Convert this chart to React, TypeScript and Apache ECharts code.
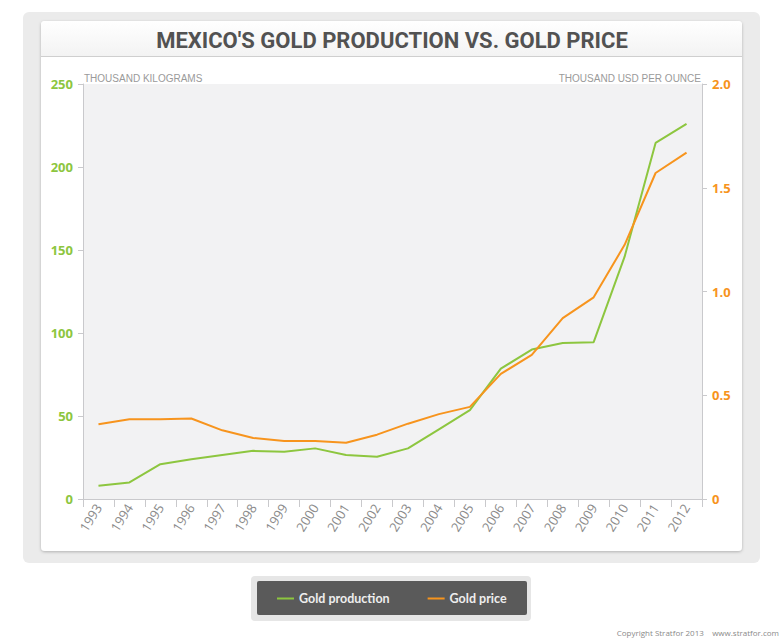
import React, { useEffect, useRef } from "react";
import * as echarts from "echarts";

const years = ["1993","1994","1995","1996","1997","1998","1999","2000","2001","2002","2003","2004","2005","2006","2007","2008","2009","2010","2011","2012"];
const goldProduction = [8, 10, 21, 24, 26.5, 29, 28.5, 30.5, 26.5, 25.5, 30.5, 42, 53.5, 78.5, 90, 94, 94.5, 146, 214.5, 226];
const goldPrice = [0.36, 0.384, 0.384, 0.388, 0.331, 0.294, 0.279, 0.279, 0.271, 0.31, 0.363, 0.409, 0.444, 0.603, 0.695, 0.872, 0.972, 1.225, 1.571, 1.669];
const leftTicks = { min: 0, max: 250, interval: 50 };
const rightTicks = { min: 0, max: 2, interval: 0.5 };

const GREEN = "#8dc63f";
const ORANGE = "#f7941d";
const AXIS = "#c9c9cc";

export default function App() {
  const ref = useRef<HTMLDivElement>(null);
  useEffect(() => {
    if (!ref.current) return;
    const chart = echarts.init(ref.current, undefined, { renderer: "svg" });
    chart.setOption({
      animation: false,
      backgroundColor: "#ffffff",
      graphic: [
        { type: "rect", z: -10, shape: { x: 23, y: 12, width: 737, height: 551, r: 6 }, style: { fill: "#ebebeb" } },
        { type: "rect", z: -9, shape: { x: 41, y: 21, width: 701, height: 530, r: 4 }, style: { fill: "#ffffff", shadowBlur: 3, shadowOffsetY: 1, shadowColor: "rgba(0,0,0,0.25)" } },
        { type: "rect", z: -8, shape: { x: 41, y: 21, width: 701, height: 35, r: [4, 4, 0, 0] }, style: { fill: new echarts.graphic.LinearGradient(0, 0, 0, 1, [{ offset: 0, color: "#ffffff" }, { offset: 1, color: "#f3f3f3" }]) } },
        { type: "line", z: -7, shape: { x1: 41, y1: 56.5, x2: 742, y2: 56.5 }, style: { stroke: "#cfcfcf", lineWidth: 1 } },
        { type: "text", z: 5, x: 392, y: 40, style: { text: "MEXICO'S GOLD PRODUCTION VS. GOLD PRICE", fill: "#525252", font: "bold 22px 'Roboto', sans-serif", align: "center", verticalAlign: "middle" } },
        { type: "text", z: 5, x: 84, y: 78, style: { text: "THOUSAND KILOGRAMS", fill: "#9a9a9a", font: "10px 'Liberation Sans', sans-serif", align: "left", verticalAlign: "middle" } },
        { type: "text", z: 5, x: 701, y: 78, style: { text: "THOUSAND USD PER OUNCE", fill: "#9a9a9a", font: "10px 'Liberation Sans', sans-serif", align: "right", verticalAlign: "middle" } },
        { type: "rect", z: -10, shape: { x: 251, y: 576, width: 280, height: 45, r: 4 }, style: { fill: "#e6e6e6" } },
        { type: "rect", z: -9, shape: { x: 257, y: 581, width: 270, height: 34, r: 2 }, style: { fill: "#5a5a5a" } },
        { type: "text", z: 5, x: 779, y: 632, style: { text: "Copyright Stratfor 2013    www.stratfor.com", fill: "#8a8a8a", font: "8px 'Open Sans', sans-serif", align: "right", verticalAlign: "middle" } },
      ],
      grid: { left: 83, right: 82, top: 84, bottom: 140, show: true, backgroundColor: "#f2f2f3", borderWidth: 0, containLabel: false },
      legend: {
        left: 272, top: 587,
        itemWidth: 17, itemHeight: 2, itemGap: 38,
        icon: "rect",
        textStyle: { color: "#eeeeee", fontWeight: "bold", fontSize: 12.5, fontFamily: "Lato, sans-serif" },
        data: ["Gold production", "Gold price"],
      },
      xAxis: {
        type: "category",
        data: years,
        boundaryGap: true,
        axisLine: { show: true, lineStyle: { color: AXIS } },
        axisTick: { show: true, length: 8, lineStyle: { color: AXIS } },
        axisLabel: { rotate: 58, color: "#8a8a8a", fontSize: 13, margin: 6, fontFamily: "'Open Sans', sans-serif" },
        splitLine: { show: false },
      },
      yAxis: [
        {
          type: "value", ...leftTicks, position: "left",
          axisLine: { show: true, lineStyle: { color: AXIS } },
          axisTick: { show: true, length: 5, lineStyle: { color: AXIS } },
          axisLabel: { color: GREEN, fontSize: 13, fontWeight: "bold", margin: 10, fontFamily: "'Open Sans', sans-serif" },
          splitLine: { show: false },
        },
        {
          type: "value", ...rightTicks, position: "right",
          axisLine: { show: true, lineStyle: { color: AXIS } },
          axisTick: { show: true, length: 5, lineStyle: { color: AXIS } },
          axisLabel: { color: ORANGE, fontSize: 13, fontWeight: "bold", margin: 10, fontFamily: "'Open Sans', sans-serif", formatter: (v: number) => (v === 0 ? "0" : v.toFixed(1)) },
          splitLine: { show: false },
        },
      ],
      series: [
        { name: "Gold production", type: "line", yAxisIndex: 0, data: goldProduction, symbol: "none", lineStyle: { color: GREEN, width: 2 }, itemStyle: { color: GREEN } },
        { name: "Gold price", type: "line", yAxisIndex: 1, data: goldPrice, symbol: "none", lineStyle: { color: ORANGE, width: 2 }, itemStyle: { color: ORANGE } },
      ],
    });
    return () => chart.dispose();
  }, []);
  return <div ref={ref} style={{ position: "absolute", left: 0, top: 0, width: 784, height: 639 }} />;
}
